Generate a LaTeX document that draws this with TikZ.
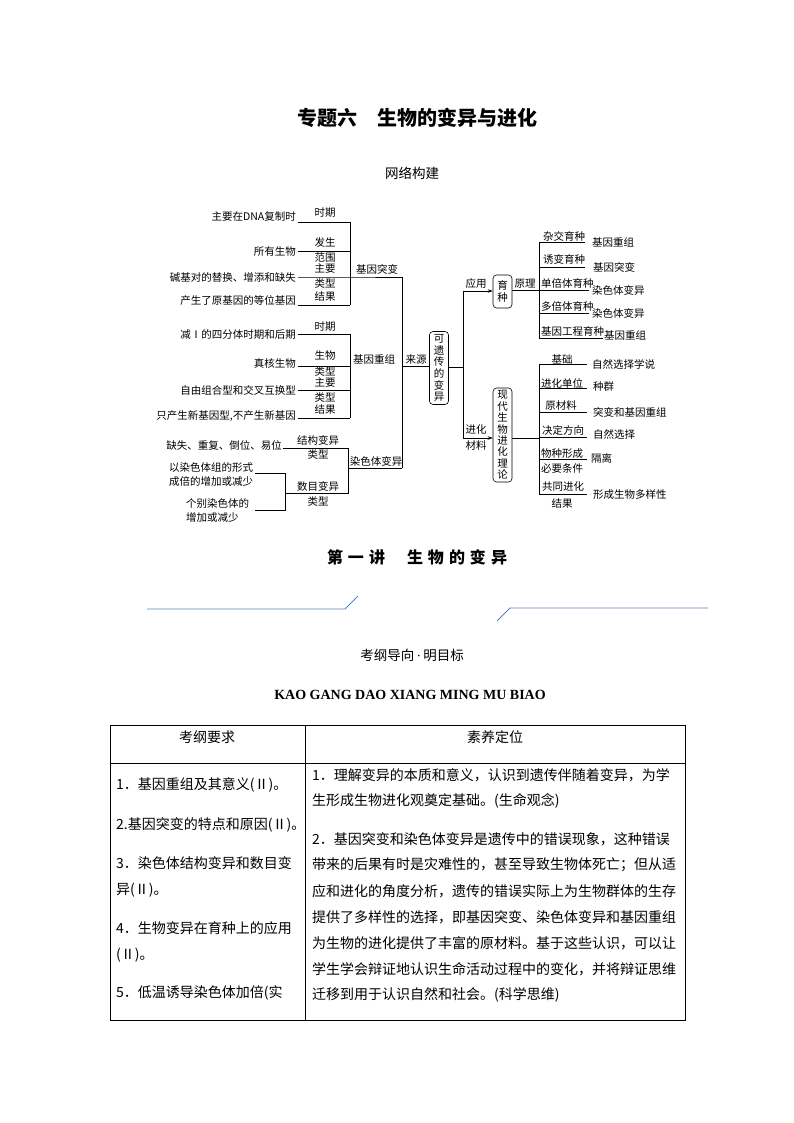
\documentclass[tikz,border=0pt]{standalone}
\usepackage{fontspec}
\setmainfont{Liberation Serif}
\newfontfamily\cjk{Noto Sans CJK SC}
\usetikzlibrary{arrows.meta}
\definecolor{deco}{RGB}{91,132,190}
\tikzset{
  t/.style={font=\cjk\fontsize{10.5}{12}\selectfont, inner sep=0pt},
  ln/.style={draw=black, line width=0.6pt},
  vbox/.style={draw, rounded corners=3.5pt, line width=0.6pt, inner xsep=0pt, inner ysep=2pt, minimum width=19pt, align=center, font=\cjk\fontsize{10.5}{11.6}\selectfont},
  tb/.style={font=\cjk\fontsize{14}{16}\selectfont, inner sep=0pt, anchor=west},
  arr/.style={-{Stealth[length=5pt,width=3.5pt]}, line width=0.6pt},
  decoline/.style={draw=deco, line width=0.8pt}
}
\begin{document}
\begin{tikzpicture}[x=1pt,y=-1pt]
\useasboundingbox (0,0) rectangle (794,1123);
\fill[white] (0,0) rectangle (794,1123);

% titles
\node[font=\cjk\bfseries\fontsize{20}{22}\selectfont, inner sep=0pt] (title) at (417,118) {专题六\quad 生物的变异与进化};
\node[font=\cjk\fontsize{13.5}{15}\selectfont, inner sep=0pt] (net) at (412,173) {网络构建};

% ---------- group A : 基因突变 ----------
\node[t,anchor=east] (a1) at (296,217) {主要在DNA复制时};
\node[t,anchor=east] (a2) at (296,252) {所有生物};
\node[t,anchor=east] (a3) at (296,277) {碱基对的替换、增添和缺失};
\node[t,anchor=east] (a4) at (296,301) {产生了原基因的等位基因};
\coordinate (a1e) at (298,222); \coordinate (jA1) at (350,222);
\coordinate (a2e) at (298,251); \coordinate (jA2) at (350,251);
\coordinate (a3e) at (298,277); \coordinate (jA3) at (350,277);
\coordinate (a4e) at (298,305); \coordinate (jA4) at (350,305);
\coordinate (kA) at (402,277);
\draw[ln] (a1e) -- (jA1);
\draw[ln] (a2e) -- (jA2);
\draw[ln] (a3e) -- (jA3) -- (kA);
\draw[ln] (a4e) -- (jA4);
\draw[ln] (jA1) -- (jA4);
\node[t] (la1) at (325,213) {时期};
\node[t] (la2) at (325,243) {发生};
\node[t] (la3) at (325,258) {范围};
\node[t] (la4) at (325,269) {主要};
\node[t] (la5) at (325,284) {类型};
\node[t] (la6) at (325,297) {结果};
\node[t] (gA) at (377,269) {基因突变};

% ---------- group B : 基因重组 ----------
\node[t,anchor=east] (b1) at (296,335) {减Ⅰ的四分体时期和后期};
\node[t,anchor=east] (b2) at (296,363) {真核生物};
\node[t,anchor=east] (b3) at (296,390) {自由组合型和交叉互换型};
\node[t,anchor=east] (b4) at (296,416) {只产生新基因型,不产生新基因};
\coordinate (b1e) at (298,334); \coordinate (jB1) at (350,334);
\coordinate (b2e) at (298,366); \coordinate (jB2) at (350,366);
\coordinate (b3e) at (298,390); \coordinate (jB3) at (350,390);
\coordinate (b4e) at (298,418); \coordinate (jB4) at (350,418);
\coordinate (kB) at (402,366);
\draw[ln] (b1e) -- (jB1);
\draw[ln] (b2e) -- (jB2);
\draw[ln] (b3e) -- (jB3);
\draw[ln] (b4e) -- (jB4);
\draw[ln] (jB1) -- (jB4);
\node[t] (lb1) at (325,327) {时期};
\node[t] (lb2) at (325,356) {生物};
\node[t] (lb3) at (325,372) {类型};
\node[t] (lb4) at (325,383) {主要};
\node[t] (lb5) at (325,398) {类型};
\node[t] (lb6) at (325,410) {结果};
\node[t] (gB) at (374,360) {基因重组};
\node[t] (src) at (416,360) {来源};

% ---------- group C : 染色体变异 ----------
\node[t,anchor=east] (c1) at (282,445) {缺失、重复、倒位、易位};
\node[t,anchor=north west,align=left,font=\cjk\fontsize{10.5}{14}\selectfont] (c2) at (169,462) {以染色体组的形式\\成倍的增加或减少};
\node[t,anchor=north west,align=left,font=\cjk\fontsize{10.5}{14}\selectfont] (c3) at (186,498) {个别染色体的\\增加或减少};
\coordinate (c1e) at (283,448); \coordinate (jC1) at (348,448);
\coordinate (jC2) at (348,493); \coordinate (jC0) at (348,468);
\coordinate (kC) at (402,468);
\coordinate (d0) at (285,493);
\coordinate (c2e) at (255,473); \coordinate (jD1) at (285,473);
\coordinate (c3e) at (255,510); \coordinate (jD2) at (285,510);
\draw[ln] (c1e) -- (jC1) -- (jC2) -- (d0);
\draw[ln] (jC0) -- (kC);
\draw[ln] (c2e) -- (jD1) -- (jD2) -- (c3e);
\node[t] (lc1) at (318,440) {结构变异};
\node[t] (lc2) at (318,455) {类型};
\node[t] (lc3) at (318,486) {数目变异};
\node[t] (lc4) at (318,502) {类型};
\node[t] (gC) at (376,461) {染色体变异};

% main source bracket
\draw[ln] (kA) -- (kC);
\node[vbox, minimum height=73pt] (var) at (439,368) {可\\遗\\传\\的\\变\\异};
\draw[ln] (kB) -- (var.west |- kB);
\coordinate (jV) at (463,367);
\coordinate (jV1) at (463,291);
\coordinate (jV2) at (463,438);
\draw[ln] (var.east |- jV) -- (jV);
\draw[ln] (jV1) -- (jV2);

% ---------- 育种 ----------
\node[vbox, minimum height=33pt] (yz) at (502.5,291.5) {育\\种};
\draw[arr] (jV1) -- (yz.west |- jV1);
\node[t] (app) at (476,284) {应用};
\coordinate (jY) at (539,290);
\coordinate (jY1) at (539,242);
\coordinate (jY5) at (539,338);
\draw[ln] (yz.east |- jY) -- (jY);
\draw[ln] (jY1) -- (jY5);
\node[t] (prin) at (525,284) {原理};
\node[t,anchor=west] (y1) at (543,236) {杂交育种};
\node[t,anchor=west] (y2) at (543,259) {诱变育种};
\node[t,anchor=west] (y3) at (541,283) {单倍体育种};
\node[t,anchor=west] (y4) at (541,306) {多倍体育种};
\node[t,anchor=west] (y5) at (541,331) {基因工程育种};
\draw[ln] (jY1) -- (585,242);
\draw[ln] (539,267) -- (585,267);
\draw[ln] (jY) -- (589,290);
\draw[ln] (539,313) -- (589,313);
\draw[ln] (jY5) -- (603,338);
\node[t,anchor=west] (r1) at (592,243) {基因重组};
\node[t,anchor=west] (r2) at (593,267) {基因突变};
\node[t,anchor=west] (r3) at (592,290) {染色体变异};
\node[t,anchor=west] (r4) at (592,313) {染色体变异};
\node[t,anchor=west] (r5) at (604,336) {基因重组};

% ---------- 现代生物进化理论 ----------
\node[vbox, minimum height=94pt, font=\cjk\fontsize{10.5}{11.4}\selectfont] (evo) at (502.5,435) {现\\代\\生\\物\\进\\化\\理\\论};
\draw[arr] (jV2) -- (evo.west |- jV2);
\node[t] (evo1) at (476,430) {进化};
\node[t] (evo2) at (476,446) {材料};
\coordinate (jE) at (539,438);
\coordinate (jE1) at (539,364);
\coordinate (jE6) at (539,494);
\draw[ln] (evo.east |- jE) -- (jE);
\draw[ln] (jE1) -- (jE6);
\foreach \yy in {364,388,412,437,459,494} { \draw[ln] (539,\yy) -- (587,\yy); }
\node[t] (e1) at (562,359) {基础};
\node[t] (e2) at (562,383) {进化单位};
\node[t] (e3) at (561,406) {原材料};
\node[t] (e4) at (563,430) {决定方向};
\node[t] (e5) at (562,454) {物种形成};
\node[t] (e5b) at (562,468) {必要条件};
\node[t] (e6) at (563,487) {共同进化};
\node[t] (e6b) at (562,503) {结果};
\node[t,anchor=west] (s1) at (592,364) {自然选择学说};
\node[t,anchor=west] (s2) at (593,387) {种群};
\node[t,anchor=west] (s3) at (593,412) {突变和基因重组};
\node[t,anchor=west] (s4) at (593,434) {自然选择};
\node[t,anchor=west] (s5) at (591,458) {隔离};
\node[t,anchor=west] (s6) at (593,495) {形成生物多样性};

% ---------- section heading ----------
\node[font=\cjk\bfseries\fontsize{16}{18}\selectfont, inner sep=0pt] (sec) at (417,557) {第\hspace{5pt}一\hspace{5pt}讲\hspace{22pt}生\hspace{5pt}物\hspace{5pt}的\hspace{5pt}变\hspace{5pt}异};
\coordinate (dl1) at (147,609); \coordinate (dl2) at (345,609); \coordinate (dl3) at (358,596);
\coordinate (dr1) at (497,621); \coordinate (dr2) at (510,608); \coordinate (dr3) at (708,608);
\draw[decoline] (dl1) -- (dl2) -- (dl3);
\draw[decoline] (dr1) -- (dr2) -- (dr3);

\node[font=\cjk\fontsize{13.5}{15}\selectfont, inner sep=0pt] (kg) at (412,655) {考纲导向{\rmfamily\,·\,}明目标};
\node[font=\bfseries\fontsize{14}{16}\selectfont, inner sep=0pt] (kgp) at (410,695) {KAO GANG DAO XIANG MING MU BIAO};

% ---------- table ----------
\coordinate (T1) at (110,725); \coordinate (T2) at (685,1020);
\draw[line width=0.7pt] (T1) rectangle (T2);
\draw[line width=0.7pt] (110,763) -- (685,763);
\draw[line width=0.7pt] (305,725) -- (305,1020);
\node[tb,anchor=center] (h1) at (207,737) {考纲要求};
\node[tb,anchor=center] (h2) at (495,737) {素养定位};
\node[tb] (l1) at (116,785) {1．基因重组及其意义(Ⅱ)。};
\node[tb] (l2) at (116,825) {2.基因突变的特点和原因(Ⅱ)。};
\node[tb] (l3) at (116,863) {3．染色体结构变异和数目变};
\node[tb] (l4) at (116,890) {异(Ⅱ)。};
\node[tb] (l5) at (116,928) {4．生物变异在育种上的应用};
\node[tb] (l6) at (116,955) {(Ⅱ)。};
\node[tb] (l7) at (116,993) {5．低温诱导染色体加倍(实};
\node[tb] (p1) at (312,775) {1．理解变异的本质和意义，认识到遗传伴随着变异，为学};
\node[tb] (p2) at (312,801) {生形成生物进化观奠定基础。(生命观念)};
\node[tb] (p3) at (312,839) {2．基因突变和染色体变异是遗传中的错误现象，这种错误};
\node[tb] (p4) at (312,865) {带来的后果有时是灾难性的，甚至导致生物体死亡；但从适};
\node[tb] (p5) at (312,891) {应和进化的角度分析，遗传的错误实际上为生物群体的生存};
\node[tb] (p6) at (312,917) {提供了多样性的选择，即基因突变、染色体变异和基因重组};
\node[tb] (p7) at (312,943) {为生物的进化提供了丰富的原材料。基于这些认识，可以让};
\node[tb] (p8) at (312,969) {学生学会辩证地认识生命活动过程中的变化，并将辩证思维};
\node[tb] (p9) at (312,995) {迁移到用于认识自然和社会。(科学思维)};
\end{tikzpicture}
\end{document}
